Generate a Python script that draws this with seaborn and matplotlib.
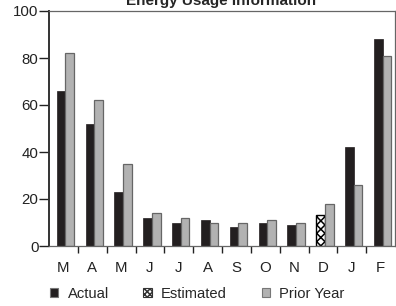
import numpy as np
import pandas as pd
import matplotlib
matplotlib.use("Agg")
import matplotlib.pyplot as plt
from matplotlib.patches import Patch
import seaborn as sns

months = ["M", "A", "M", "J", "J", "A", "S", "O", "N", "D", "J", "F"]
actual = [66, 52, 23, 12, 10, 11, 8, 10, 9, 13, 42, 88]
prior_year = [82, 62, 35, 14, 12, 10, 10, 11, 10, 18, 26, 81]
estimated_idx = 9  # December is an estimate

actual_color = "#231f20"
prior_color = "#b2b2b2"

sns.set_style("ticks")
plt.rcParams["font.family"] = ["Liberation Sans", "DejaVu Sans"]
plt.rcParams["hatch.linewidth"] = 1.1

pos = [f"{i:02d}" for i in range(len(months))]
df = pd.DataFrame({
    "pos": pos * 2,
    "value": actual + prior_year,
    "series": ["Actual"] * len(months) + ["Prior Year"] * len(months),
})

fig = plt.figure(figsize=(3.96, 3.06), dpi=100)
ax = fig.add_axes([49 / 396, 1 - 246 / 306, 346 / 396, 235 / 306])

sns.barplot(data=df, x="pos", y="value", hue="series",
            palette={"Actual": actual_color, "Prior Year": prior_color},
            width=0.6, saturation=1, gap=0, legend=False, ax=ax)

for bar in ax.containers[0]:
    bar.set_edgecolor(actual_color)
    bar.set_linewidth(0.5)
for bar in ax.containers[1]:
    bar.set_edgecolor("#666666")
    bar.set_linewidth(0.9)

# shift the pairs slightly right, as in the original
for cont in ax.containers:
    for bar in cont:
        bar.set_x(bar.get_x() + 0.07)

est = ax.containers[0][estimated_idx]
est.set_facecolor("white")
est.set_edgecolor("black")
est.set_hatch("xxxx")
est.set_linewidth(1.0)

ax.set_xlim(-0.5, len(months) - 0.5)
ax.set_ylim(0, 100)
ax.set_yticks(np.arange(0, 101, 20))
ax.set_xticks(range(len(months)))
ax.set_xticklabels(months)
ax.set_xticks(np.arange(0.5, len(months) - 1, 1.0), minor=True)
ax.set_xlabel("")
ax.set_ylabel("")

ax.tick_params(axis="y", direction="out", length=7, width=1, pad=0.5,
               labelsize=10.8, colors="#222222")
ax.tick_params(axis="x", which="major", length=0, pad=11, labelsize=10.8,
               colors="#222222")
ax.tick_params(axis="x", which="minor", direction="out", length=5,
               width=1, color="#222222")

for side in ["top", "right", "bottom"]:
    ax.spines[side].set_visible(True)
    ax.spines[side].set_color("#666666")
    ax.spines[side].set_linewidth(0.9)
ax.spines["left"].set_color("#333333")
ax.spines["left"].set_linewidth(1.4)

fig.text(221 / 396, 1 - 5 / 306, "Energy Usage Information",
         ha="center", va="baseline", fontsize=11, fontweight="bold")

handles = [
    Patch(facecolor=actual_color, edgecolor="#777777", linewidth=0.8),
    Patch(facecolor="white", edgecolor="#333333", hatch="xxxxxx", linewidth=0.8),
    Patch(facecolor=prior_color, edgecolor="#777777", linewidth=0.8),
]
fig.legend(handles, ["Actual", "Estimated", "Prior Year"], ncol=3,
           loc="center left", bbox_to_anchor=(47 / 396, 1 - 294 / 306),
           frameon=False, fontsize=10.6, handlelength=0.55, handleheight=0.55,
           handletextpad=0.65, columnspacing=2.35, borderaxespad=0,
           borderpad=0.2)

fig.savefig("out.png", dpi=100)
